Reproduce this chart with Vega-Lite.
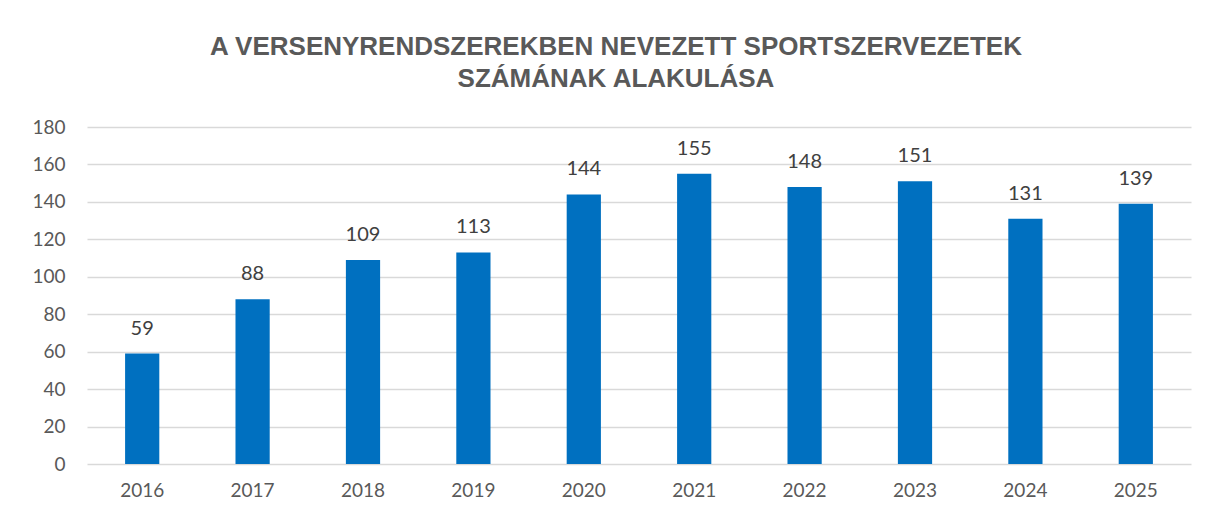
{
  "$schema": "https://vega.github.io/schema/vega-lite/v6.json",
  "width": 1104,
  "height": 337,
  "autosize": "none",
  "padding": {"left": 87, "top": 127, "right": 18, "bottom": 53},
  "background": "white",
  "title": {
    "text": ["A VERSENYRENDSZEREKBEN  NEVEZETT SPORTSZERVEZETEK", "SZÁMÁNAK ALAKULÁSA"],
    "font": "Liberation Sans",
    "fontSize": 26,
    "fontWeight": "bold",
    "color": "#595959",
    "lineHeight": 32,
    "anchor": "middle",
    "dx": -23,
    "offset": 26
  },
  "data": {
    "values": [
      {"year": "2016", "value": 59},
      {"year": "2017", "value": 88},
      {"year": "2018", "value": 109},
      {"year": "2019", "value": 113},
      {"year": "2020", "value": 144},
      {"year": "2021", "value": 155},
      {"year": "2022", "value": 148},
      {"year": "2023", "value": 151},
      {"year": "2024", "value": 131},
      {"year": "2025", "value": 139}
    ]
  },
  "config": {
    "view": {"stroke": null},
    "axis": {
      "labelFont": "Lato",
      "labelFontSize": 19,
      "labelColor": "#595959",
      "domain": false,
      "ticks": false,
      "title": null
    }
  },
  "encoding": {
    "x": {
      "field": "year",
      "type": "nominal",
      "scale": {"paddingInner": 0.69, "paddingOuter": 0.345},
      "axis": {"labelAngle": 0, "labelPadding": 17, "grid": false}
    },
    "y": {
      "field": "value",
      "type": "quantitative",
      "scale": {"domain": [0, 180], "nice": false},
      "axis": {"values": [0, 20, 40, 60, 80, 100, 120, 140, 160, 180], "labelPadding": 22, "gridColor": "#D9D9D9", "gridWidth": 1.5}
    }
  },
  "layer": [
    {"mark": {"type": "bar", "color": "#0070C0"}},
    {
      "mark": {"type": "text", "baseline": "bottom", "dy": -15, "font": "Lato", "fontSize": 20, "color": "#404040"},
      "encoding": {"text": {"field": "value", "type": "quantitative"}}
    }
  ]
}
